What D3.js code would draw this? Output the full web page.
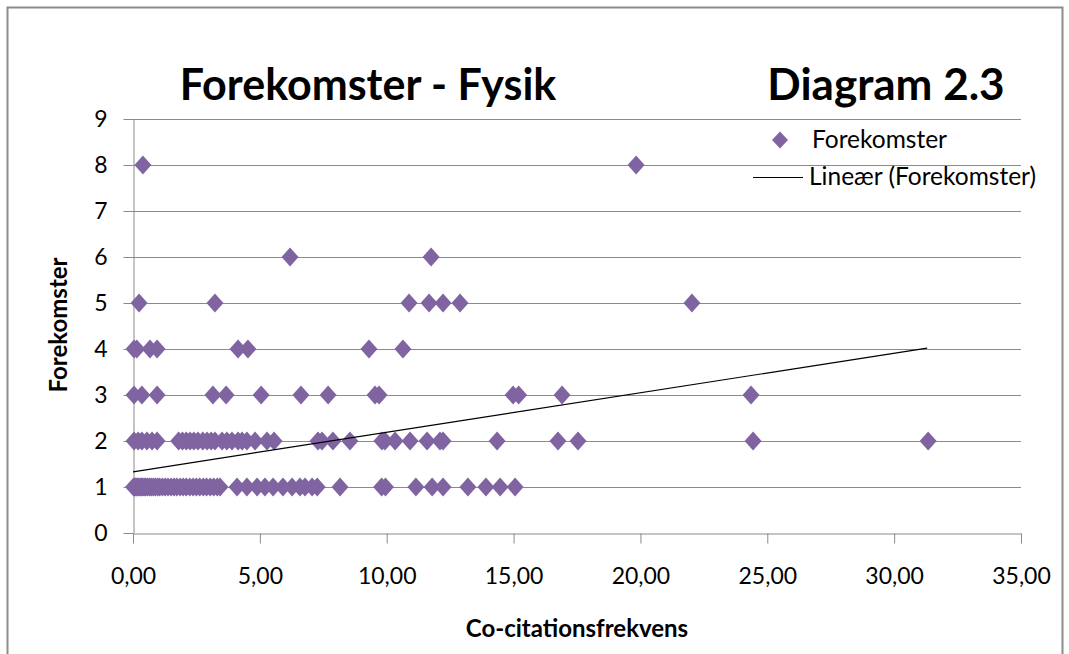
<!DOCTYPE html>
<html>

<head>
	<title>Forekomster - Fysik</title>
	<meta charset="utf-8">
	<script src="https://cdn.jsdelivr.net/npm/d3@7"></script>
	<style>
		body {
			margin: 0;
			background: #fff;
		}

		svg text {
			font-family: Lato, "Open Sans", sans-serif;
			fill: #000;
		}

		.grid line {
			stroke: #8a8a8a;
			stroke-width: 1;
		}
	</style>
</head>

<body>

	<svg width="1069" height="654"></svg>

	<script>
		// Co-citationsfrekvens per forekomst-niveau
		var occ1 = [0.02, 0.06, 0.1, 0.14, 0.19, 0.23, 0.28, 0.33, 0.38, 0.44, 0.5, 0.57, 0.65, 0.72, 0.8, 0.88,
			0.97, 1.05, 1.16, 1.27, 1.38, 1.5, 1.62, 1.73, 1.86, 1.98, 2.1, 2.24, 2.37, 2.5, 2.63, 2.77, 2.9,
			3.04, 3.18, 3.32, 3.43, 4.1, 4.49, 4.89, 5.2, 5.52, 5.91, 6.27, 6.58, 6.78, 7.06, 7.26, 8.16,
			9.8, 9.95, 11.15, 11.79, 12.22, 13.2, 13.91, 14.47, 15.06];
		var occ2 = [0.04, 0.2, 0.35, 0.55, 0.75, 0.95, 1.8, 1.95, 2.1, 2.25, 2.4, 2.56, 2.75, 2.92, 3.08, 3.23,
			3.51, 3.7, 3.9, 4.14, 4.3, 4.49, 4.81, 5.28, 5.56, 7.29, 7.45, 7.88, 8.55, 9.81, 9.93, 10.33,
			10.92, 11.59, 12.1, 12.22, 14.35, 16.75, 17.54, 24.44, 31.34];
		var occ3 = [0.04, 0.35, 0.95, 3.15, 3.67, 5.05, 6.62, 7.69, 9.54, 9.7, 14.98, 15.2, 16.91, 24.36];
		var occ4 = [0.04, 0.15, 0.67, 0.95, 4.14, 4.53, 9.3, 10.64];
		var occ5 = [0.24, 3.23, 10.88, 11.67, 12.22, 12.89, 22.03];
		var occ6 = [6.19, 11.75];
		var occ8 = [0.39, 19.83];

		// lineær tendenslinje (endepunkter aflæst)
		var trendX = [0, 31.3];
		var trendY = [1.33, 4.02];

		var xTicks = [0, 5, 10, 15, 20, 25, 30, 35];
		var yTicks = [0, 1, 2, 3, 4, 5, 6, 7, 8, 9];

		var levels = [
			[1, occ1], [2, occ2], [3, occ3], [4, occ4], [5, occ5], [6, occ6], [8, occ8]
		];
		var points = [];
		levels.forEach(function(l) {
			l[1].forEach(function(x) {
				points.push([x, l[0]]);
			});
		});

		var svg = d3.select('svg');
		var purple = '#8064a2';
		var grey = '#8a8a8a';

		// ramme
		svg.append('rect')
			.attr('x', 7.5).attr('y', 7.5)
			.attr('width', 1055).attr('height', 660)
			.attr('fill', 'none')
			.attr('stroke', '#8c8c8c')
			.attr('stroke-width', 2);

		var x = d3.scaleLinear().domain([0, 35]).range([133, 1021]);
		var y = d3.scaleLinear().domain([0, 9]).range([533, 119]);

		// gitterlinjer
		svg.append('g')
			.attr('class', 'grid')
			.selectAll('line')
			.data(yTicks.slice(1))
			.enter().append('line')
			.attr('x1', x(0)).attr('x2', x(35))
			.attr('y1', function(d) { return y(d) + 0.5; })
			.attr('y2', function(d) { return y(d) + 0.5; });

		var fmt = function(d) {
			return d3.format('.2f')(d).replace('.', ',');
		};

		var xAxis = d3.axisBottom(x)
			.tickValues(xTicks)
			.tickFormat(fmt)
			.tickSizeInner(10)
			.tickSizeOuter(0)
			.tickPadding(24);

		var yAxis = d3.axisLeft(y)
			.tickValues(yTicks)
			.tickSizeInner(10)
			.tickSizeOuter(0)
			.tickPadding(16);

		var gx = svg.append('g')
			.attr('transform', 'translate(0,' + (y(0) + 0.5) + ')')
			.call(xAxis);
		var gy = svg.append('g')
			.attr('transform', 'translate(' + (x(0) + 0.5) + ',0)')
			.call(yAxis);

		[gx, gy].forEach(function(g) {
			g.selectAll('path, line').attr('stroke', grey);
			g.selectAll('text')
				.style('font-size', '23px')
				.style('font-family', 'Lato, "Open Sans", sans-serif');
		});

		// punkter
		var rx = 8.5, ry = 9.5;
		var diamond = function(a, b) {
			return 'M0,' + (-b) + 'L' + a + ',0L0,' + b + 'L' + (-a) + ',0Z';
		};
		svg.append('g')
			.selectAll('path')
			.data(points)
			.enter().append('path')
			.attr('d', diamond(rx, ry))
			.attr('fill', purple)
			.attr('transform', function(d) {
				return 'translate(' + x(d[0]) + ',' + y(d[1]) + ')';
			});

		// tendenslinje
		var line = d3.line()
			.x(function(d) { return x(d[0]); })
			.y(function(d) { return y(d[1]); });
		svg.append('path')
			.attr('d', line(d3.zip(trendX, trendY)))
			.attr('fill', 'none')
			.attr('stroke', '#000')
			.attr('stroke-width', 1.2);

		// titler
		svg.append('text')
			.attr('x', 368).attr('y', 100)
			.attr('text-anchor', 'middle')
			.style('font-size', '43px')
			.style('font-weight', 'bold')
			.text('Forekomster - Fysik');

		svg.append('text')
			.attr('x', 886).attr('y', 100)
			.attr('text-anchor', 'middle')
			.style('font-size', '44px')
			.style('font-weight', 'bold')
			.text('Diagram 2.3');

		svg.append('text')
			.attr('x', 577).attr('y', 637)
			.attr('text-anchor', 'middle')
			.style('font-size', '24px')
			.style('font-weight', 'bold')
			.text('Co-citationsfrekvens');

		svg.append('text')
			.attr('transform', 'translate(67,325) rotate(-90)')
			.attr('text-anchor', 'middle')
			.style('font-size', '24px')
			.style('font-weight', 'bold')
			.text('Forekomster');

		// forklaring
		svg.append('path')
			.attr('d', diamond(8, 8.5))
			.attr('fill', purple)
			.attr('transform', 'translate(780,140)');
		svg.append('text')
			.attr('x', 812).attr('y', 148)
			.style('font-size', '24.5px')
			.text('Forekomster');

		svg.append('line')
			.attr('x1', 753).attr('x2', 803)
			.attr('y1', 177.5).attr('y2', 177.5)
			.attr('stroke', '#000')
			.attr('stroke-width', 1.2);
		svg.append('text')
			.attr('x', 809).attr('y', 185)
			.style('font-size', '24.5px')
			.text('Lineær (Forekomster)');
	</script>
</body>

</html>
